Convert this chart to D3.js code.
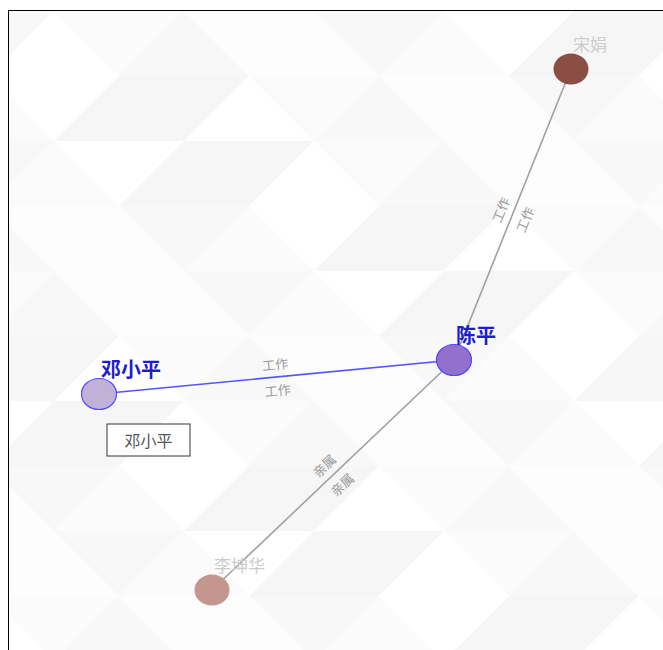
<!DOCTYPE html>
<html><head><meta charset="utf-8">
<script src="https://cdn.jsdelivr.net/npm/d3@7/dist/d3.min.js"></script>
<style>
html,body{margin:0;padding:0;background:#fff;overflow:hidden;}
#wrap{position:absolute;left:8px;top:10px;width:700px;height:700px;border:1px solid #000;border-right:none;border-bottom:none;}
svg{display:block;}
</style></head>
<body>
<div id="wrap"></div>
<script>
// ---- data ----
const nodeNames = ["宋娟", "陈平", "邓小平", "李坤华"];
const nodeX = [570, 453, 98, 211];      // layout coordinates
const nodeY = [68, 359, 393, 589];
const nodeColors = ["#8a4e45", "#9370cc", "#c1b1d8", "#c4968d"];
const nodeHighlighted = [false, true, true, false];
const linkSource = ["陈平", "陈平", "陈平"];
const linkTarget = ["宋娟", "邓小平", "李坤华"];
const linkRelation = ["工作", "工作", "亲属"];
const linkHighlighted = [false, true, false];
const tooltipName = "邓小平";
const shadeLevels = ["#ffffff", "#fbfbfb", "#f8f8f8", "#f6f6f6", "#fdfdfd"];

const W = 663, H = 650;
const svg = d3.select("#wrap").append("svg").attr("width", 700).attr("height", 700)
  .style("font-family", "'Noto Sans CJK SC','Noto Sans',sans-serif");
const x = d3.scaleLinear().domain([0, W]).range([-8, W - 8]);
const y = d3.scaleLinear().domain([0, H]).range([-10, H - 10]);

// background triangle pattern
const bg = svg.append("g");
const tw = 130, th = 65;
for (let r = -1; r < 12; r++) {
  for (let c = -2; c < 8; c++) {
    const off = (r % 2 === 0) ? 0 : tw / 2;
    const x0 = c * tw + off - 20, y0 = r * th;
    const up = [[x0, y0 + th], [x0 + tw / 2, y0], [x0 + tw, y0 + th]];
    const dn = [[x0 + tw / 2, y0], [x0 + tw * 1.5, y0], [x0 + tw, y0 + th]];
    const s1 = shadeLevels[Math.abs(r * 3 + c * 2) % shadeLevels.length];
    const s2 = shadeLevels[Math.abs(r * 2 + c * 3 + 1) % shadeLevels.length];
    bg.append("path").attr("d", "M" + up.join("L") + "Z").attr("fill", s1);
    bg.append("path").attr("d", "M" + dn.join("L") + "Z").attr("fill", s2);
  }
}

const nodes = nodeNames.map((n, i) => ({name: n, x: x(nodeX[i]), y: y(nodeY[i]), color: nodeColors[i], hi: nodeHighlighted[i]}));
const byName = new Map(nodes.map(d => [d.name, d]));
const links = linkSource.map((s, i) => ({s: byName.get(s), t: byName.get(linkTarget[i]), rel: linkRelation[i], hi: linkHighlighted[i]}));

// links
svg.append("g").selectAll("line").data(links).join("line")
  .attr("x1", d => d.s.x).attr("y1", d => d.s.y)
  .attr("x2", d => d.t.x).attr("y2", d => d.t.y)
  .attr("stroke", d => d.hi ? "#5555ff" : "#a0a0a0")
  .attr("stroke-width", 1.6);

// link labels on both sides
const lg = svg.append("g");
links.forEach(d => {
  let ax = d.s.x, ay = d.s.y, bx = d.t.x, by = d.t.y;
  if (bx < ax) { [ax, bx] = [bx, ax]; [ay, by] = [by, ay]; }
  const ang = Math.atan2(by - ay, bx - ax) * 180 / Math.PI;
  const mx = (ax + bx) / 2, my = (ay + by) / 2;
  [-1, 1].forEach(side => {
    lg.append("text")
      .attr("transform", `translate(${mx},${my}) rotate(${ang}) translate(0,${side * 13})`)
      .attr("text-anchor", "middle").attr("dominant-baseline", "central")
      .attr("font-size", 13).attr("fill", "#9a9a9a")
      .text(d.rel);
  });
});

// nodes
svg.append("g").selectAll("ellipse").data(nodes).join("ellipse")
  .attr("cx", d => d.x).attr("cy", d => d.y)
  .attr("rx", 17.5).attr("ry", 15.5)
  .attr("fill", d => d.color)
  .attr("stroke", d => d.hi ? "#4a4aff" : "none")
  .attr("stroke-width", 1.2);

// node labels
svg.append("g").selectAll("text").data(nodes).join("text")
  .attr("x", d => d.x + 2)
  .attr("y", d => d.y - (d.hi ? 17 : 18))
  .attr("font-size", d => d.hi ? 20 : 17)
  .attr("font-weight", d => d.hi ? "bold" : "normal")
  .attr("fill", d => d.hi ? "#1c1cd0" : "#cccccc")
  .text(d => d.name);

// tooltip box
const tn = byName.get(tooltipName);
const tip = svg.append("g").attr("transform", `translate(${tn.x + 8},${tn.y + 30})`);
tip.append("rect").attr("width", 83).attr("height", 32).attr("fill", "#fff").attr("stroke", "#333").attr("stroke-width", 1);
tip.append("text").attr("x", 41.5).attr("y", 16).attr("text-anchor", "middle").attr("dominant-baseline", "central")
  .attr("font-size", 16).attr("fill", "#555").text(tooltipName);
</script>
</body></html>
